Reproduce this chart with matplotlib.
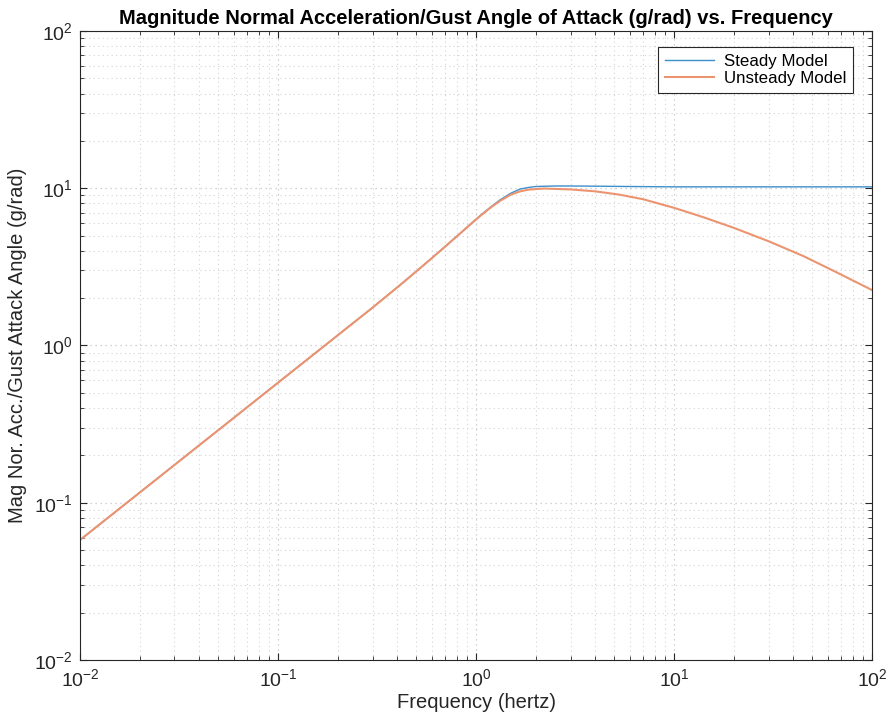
import numpy as np
import matplotlib
matplotlib.use('Agg')
from matplotlib import pyplot as plt
from matplotlib.ticker import LogLocator, NullFormatter

plt.rcParams['font.family'] = ['Liberation Sans', 'DejaVu Sans']
plt.rcParams['mathtext.fontset'] = 'custom'
plt.rcParams['mathtext.rm'] = 'Liberation Sans'
plt.rcParams['mathtext.default'] = 'regular'

# values (Hz, g/rad)
freq_steady = [0.01, 0.02, 0.05, 0.1, 0.2, 0.3, 0.413, 0.52, 0.66, 0.83, 0.95, 1.05, 1.18,
               1.32, 1.5, 1.67, 1.85, 2.0, 2.5, 3.0, 4.0, 6.0, 10, 20, 50, 100]
mag_steady = [0.058, 0.116, 0.29, 0.58, 1.16, 1.74, 2.42, 3.09, 4.0, 5.15, 6.0, 6.7, 7.56,
              8.42, 9.3, 9.88, 10.12, 10.25, 10.33, 10.33, 10.3, 10.25, 10.2, 10.2, 10.2, 10.2]

freq_unsteady = [0.01, 0.02, 0.05, 0.1, 0.2, 0.3, 0.413, 0.52, 0.66, 0.83, 0.95, 1.05, 1.18,
                 1.32, 1.5, 1.67, 1.85, 2.2, 3.0, 4.0, 5.3, 7.0, 10, 14, 20, 30, 45, 65, 100]
mag_unsteady = [0.058, 0.116, 0.29, 0.58, 1.16, 1.74, 2.42, 3.09, 4.0, 5.15, 5.98, 6.66, 7.5,
                8.3, 9.1, 9.55, 9.8, 9.95, 9.82, 9.55, 9.1, 8.5, 7.5, 6.55, 5.6, 4.6, 3.7, 2.95, 2.25]

fig = plt.figure(figsize=(8.91, 7.19), dpi=100)
ax = fig.add_axes([0.0898, 0.082, 0.889, 0.875])

ax.loglog(freq_steady, mag_steady, color='#3C8FCB', lw=1.0, label='Steady Model')
ax.loglog(freq_unsteady, mag_unsteady, color='#EC9470', lw=1.5, label='Unsteady Model')

ax.set_xlim(1e-2, 1e2)
ax.set_ylim(1e-2, 1e2)
ax.xaxis.set_major_locator(LogLocator(base=10, numticks=10))
ax.yaxis.set_major_locator(LogLocator(base=10, numticks=10))
ax.xaxis.set_minor_locator(LogLocator(base=10, subs=np.arange(2, 10), numticks=20))
ax.yaxis.set_minor_locator(LogLocator(base=10, subs=np.arange(2, 10), numticks=20))
ax.xaxis.set_minor_formatter(NullFormatter())
ax.yaxis.set_minor_formatter(NullFormatter())

ax.grid(True, which='major', ls=(0, (1, 3)), color='#c4c4c4', lw=0.9)
ax.grid(True, which='minor', ls=(0, (1, 3)), color='#d4d4d4', lw=0.8)
ax.set_axisbelow(True)

ax.tick_params(which='both', direction='in', top=True, right=True, colors='#262626',
               labelsize=14)
ax.tick_params(which='major', length=5)
ax.tick_params(which='minor', length=3)
ax.tick_params(axis='x', pad=6)
ax.tick_params(axis='y', pad=5)
for s in ax.spines.values():
    s.set_color('#262626')
    s.set_linewidth(0.8)

ax.set_xlabel('Frequency (hertz)', fontsize=14.5, color='#262626', labelpad=2)
ax.set_ylabel('Mag Nor. Acc./Gust Attack Angle (g/rad)', fontsize=14.5, color='#262626',
              labelpad=5)
ax.set_title('Magnitude Normal Acceleration/Gust Angle of Attack (g/rad) vs. Frequency',
             fontsize=14.5, fontweight='bold', pad=5)

leg = ax.legend(loc='upper right', bbox_to_anchor=(0.976, 0.9746), borderaxespad=0,
                fontsize=12.2, fancybox=False, framealpha=1, edgecolor='#262626',
                handlelength=2.9, handletextpad=0.6, borderpad=0.4, labelspacing=0.15)
leg.get_frame().set_linewidth(0.8)

fig.savefig('out.png', dpi=100)
